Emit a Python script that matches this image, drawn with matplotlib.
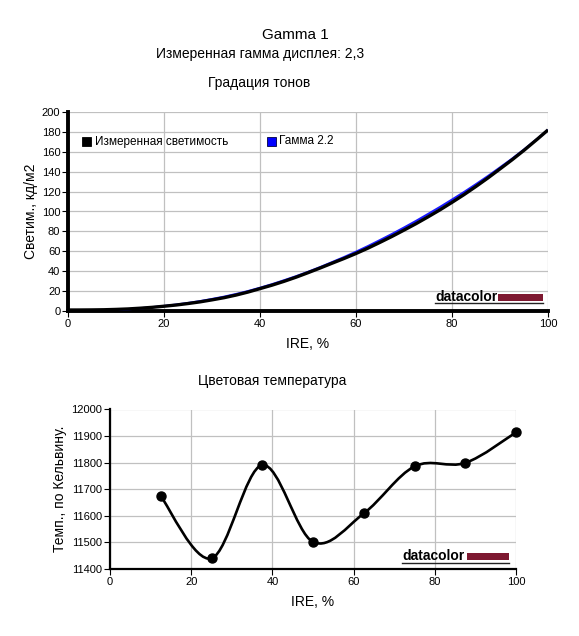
import matplotlib
matplotlib.use("Agg")
import matplotlib.pyplot as plt
from matplotlib.path import Path
from matplotlib.patches import PathPatch, Rectangle

plt.rcParams['font.family'] = ['Liberation Sans', 'DejaVu Sans']

# --- данные: градация тонов ---
ire_top = [0, 5, 10, 15, 20, 25, 30, 35, 40, 45, 50, 55, 60, 65, 70, 75, 80, 85, 90, 95, 100]
lum_measured = [1.0, 1.1, 1.6, 2.8, 4.8, 7.5, 11.2, 16.0, 22.5, 29.8, 38.5, 48.0, 57.8,
                69.0, 81.3, 94.6, 109.2, 125.2, 142.8, 161.5, 182.0]
lum_gamma22 = [0.0, 0.3, 1.1, 2.7, 5.0, 8.0, 12.0, 17.0, 23.3, 30.8, 39.3, 49.0, 59.5,
               71.2, 83.8, 97.4, 111.9, 127.4, 144.2, 162.2, 182.0]

# --- данные: цветовая температура ---
ire_temp = [12.5, 25, 37.5, 50, 62.5, 75, 87.5, 100]
temp_k = [11674, 11440, 11791, 11502, 11609, 11786, 11799, 11914]

GRID = '#c0c0c0'
LOGO_RED = '#7d1830'


def smooth_path(xs, ys):
    # сглаженная линия (Catmull-Rom -> Bezier), как в Excel
    verts = [(xs[0], ys[0])]
    codes = [Path.MOVETO]
    n = len(xs)
    for i in range(n - 1):
        x0, y0 = (xs[i - 1], ys[i - 1]) if i > 0 else (xs[i], ys[i])
        x1, y1 = xs[i], ys[i]
        x2, y2 = xs[i + 1], ys[i + 1]
        x3, y3 = (xs[i + 2], ys[i + 2]) if i + 2 < n else (x2, y2)
        c1 = (x1 + (x2 - x0) / 6.0, y1 + (y2 - y0) / 6.0)
        c2 = (x2 - (x3 - x1) / 6.0, y2 - (y3 - y1) / 6.0)
        verts += [c1, c2, (x2, y2)]
        codes += [Path.CURVE4] * 3
    return Path(verts, codes)


def style_axes(ax, spine_w):
    ax.grid(True, color=GRID, lw=0.9)
    ax.set_axisbelow(True)
    for s in ['top', 'right']:
        ax.spines[s].set_visible(False)
    for s in ['left', 'bottom']:
        ax.spines[s].set_linewidth(spine_w)
        ax.spines[s].set_color('black')
    ax.tick_params(direction='out', length=4, width=0.8, labelsize=8, pad=1.5)


fig = plt.figure(figsize=(5.79, 6.36), dpi=100)

fig.text(0.51, 1 - 35 / 636, 'Gamma 1', ha='center', va='center', fontsize=11)
fig.text(0.449, 1 - 54 / 636, 'Измеренная гамма дисплея: 2,3', ha='center', va='center', fontsize=10)
fig.text(0.447, 1 - 83 / 636, 'Градация тонов', ha='center', va='center', fontsize=10)

# ---------- верхний график ----------
ax1 = fig.add_axes([68 / 579, (636 - 311) / 636, 480 / 579, 199 / 636])
style_axes(ax1, 2.8)
ax1.add_patch(PathPatch(smooth_path(ire_top, lum_gamma22), fill=False, edgecolor='#1a1aff', lw=1.6, zorder=3))
ax1.add_patch(PathPatch(smooth_path(ire_top, lum_measured), fill=False, edgecolor='black', lw=2.4, zorder=4))
ax1.set_xlim(0, 100)
ax1.set_ylim(0, 200)
ax1.set_xticks(range(0, 101, 20))
ax1.set_yticks(range(0, 201, 20))
ax1.set_xlabel('IRE, %', fontsize=10, labelpad=6)
ax1.set_ylabel('Светим., кд/м2', fontsize=10, labelpad=3)

# легенда
ax1.add_patch(Rectangle((14 / 480, (311 - 146) / 199), 9 / 480, 9 / 199, transform=ax1.transAxes,
                        facecolor='black', edgecolor='black', lw=0.6, zorder=6))
ax1.text(27 / 480, (311 - 141.5) / 199, 'Измеренная светимость', transform=ax1.transAxes,
         fontsize=8.5, va='center', ha='left')
ax1.add_patch(Rectangle((199 / 480, (311 - 146) / 199), 9 / 480, 9 / 199, transform=ax1.transAxes,
                        facecolor='#0000ff', edgecolor='#000044', lw=0.6, zorder=6))
ax1.text(211 / 480, (311 - 141.5) / 199, 'Гамма 2.2', transform=ax1.transAxes,
         fontsize=8.5, va='center', ha='left')

# логотип
ax1.text(367 / 480, (311 - 301) / 199, 'datacolor', transform=ax1.transAxes, fontsize=10,
         fontweight='bold', color='black', ha='left', va='baseline', zorder=6)
ax1.add_patch(Rectangle((430 / 480, (311 - 301) / 199), 45 / 480, 6.5 / 199, transform=ax1.transAxes,
                        facecolor=LOGO_RED, edgecolor='none', zorder=6))
ax1.plot([367 / 480, 475 / 480], [(311 - 303.5) / 199] * 2, transform=ax1.transAxes,
         color='#222222', lw=1.0, zorder=6)

# ---------- нижний график ----------
fig.text(272 / 579, 1 - 381 / 636, 'Цветовая температура', ha='center', va='center', fontsize=10)

ax2 = fig.add_axes([110 / 579, (636 - 569) / 636, 406 / 579, 159.5 / 636])
style_axes(ax2, 1.6)
ax2.add_patch(PathPatch(smooth_path(ire_temp, temp_k), fill=False, edgecolor='black', lw=1.9, zorder=4))
ax2.plot(ire_temp, temp_k, 'o', color='black', markersize=6.5, zorder=5, clip_on=False)
ax2.set_xlim(0, 100)
ax2.set_ylim(11400, 12000)
ax2.set_xticks(range(0, 101, 20))
ax2.set_yticks(range(11400, 12001, 100))
ax2.set_xlabel('IRE, %', fontsize=10, labelpad=6)
ax2.set_ylabel('Темп., по Кельвину.', fontsize=10, labelpad=3)

ax2.text(292 / 406, (569 - 560.5) / 159.5, 'datacolor', transform=ax2.transAxes, fontsize=10,
         fontweight='bold', color='black', ha='left', va='baseline', zorder=6)
ax2.add_patch(Rectangle((357 / 406, (569 - 560) / 159.5), 42 / 406, 7 / 159.5, transform=ax2.transAxes,
                        facecolor=LOGO_RED, edgecolor='none', zorder=6))
ax2.plot([292 / 406, 399 / 406], [(569 - 562.5) / 159.5] * 2, transform=ax2.transAxes,
         color='#222222', lw=1.0, zorder=6)

fig.savefig('out.png', dpi=100)
